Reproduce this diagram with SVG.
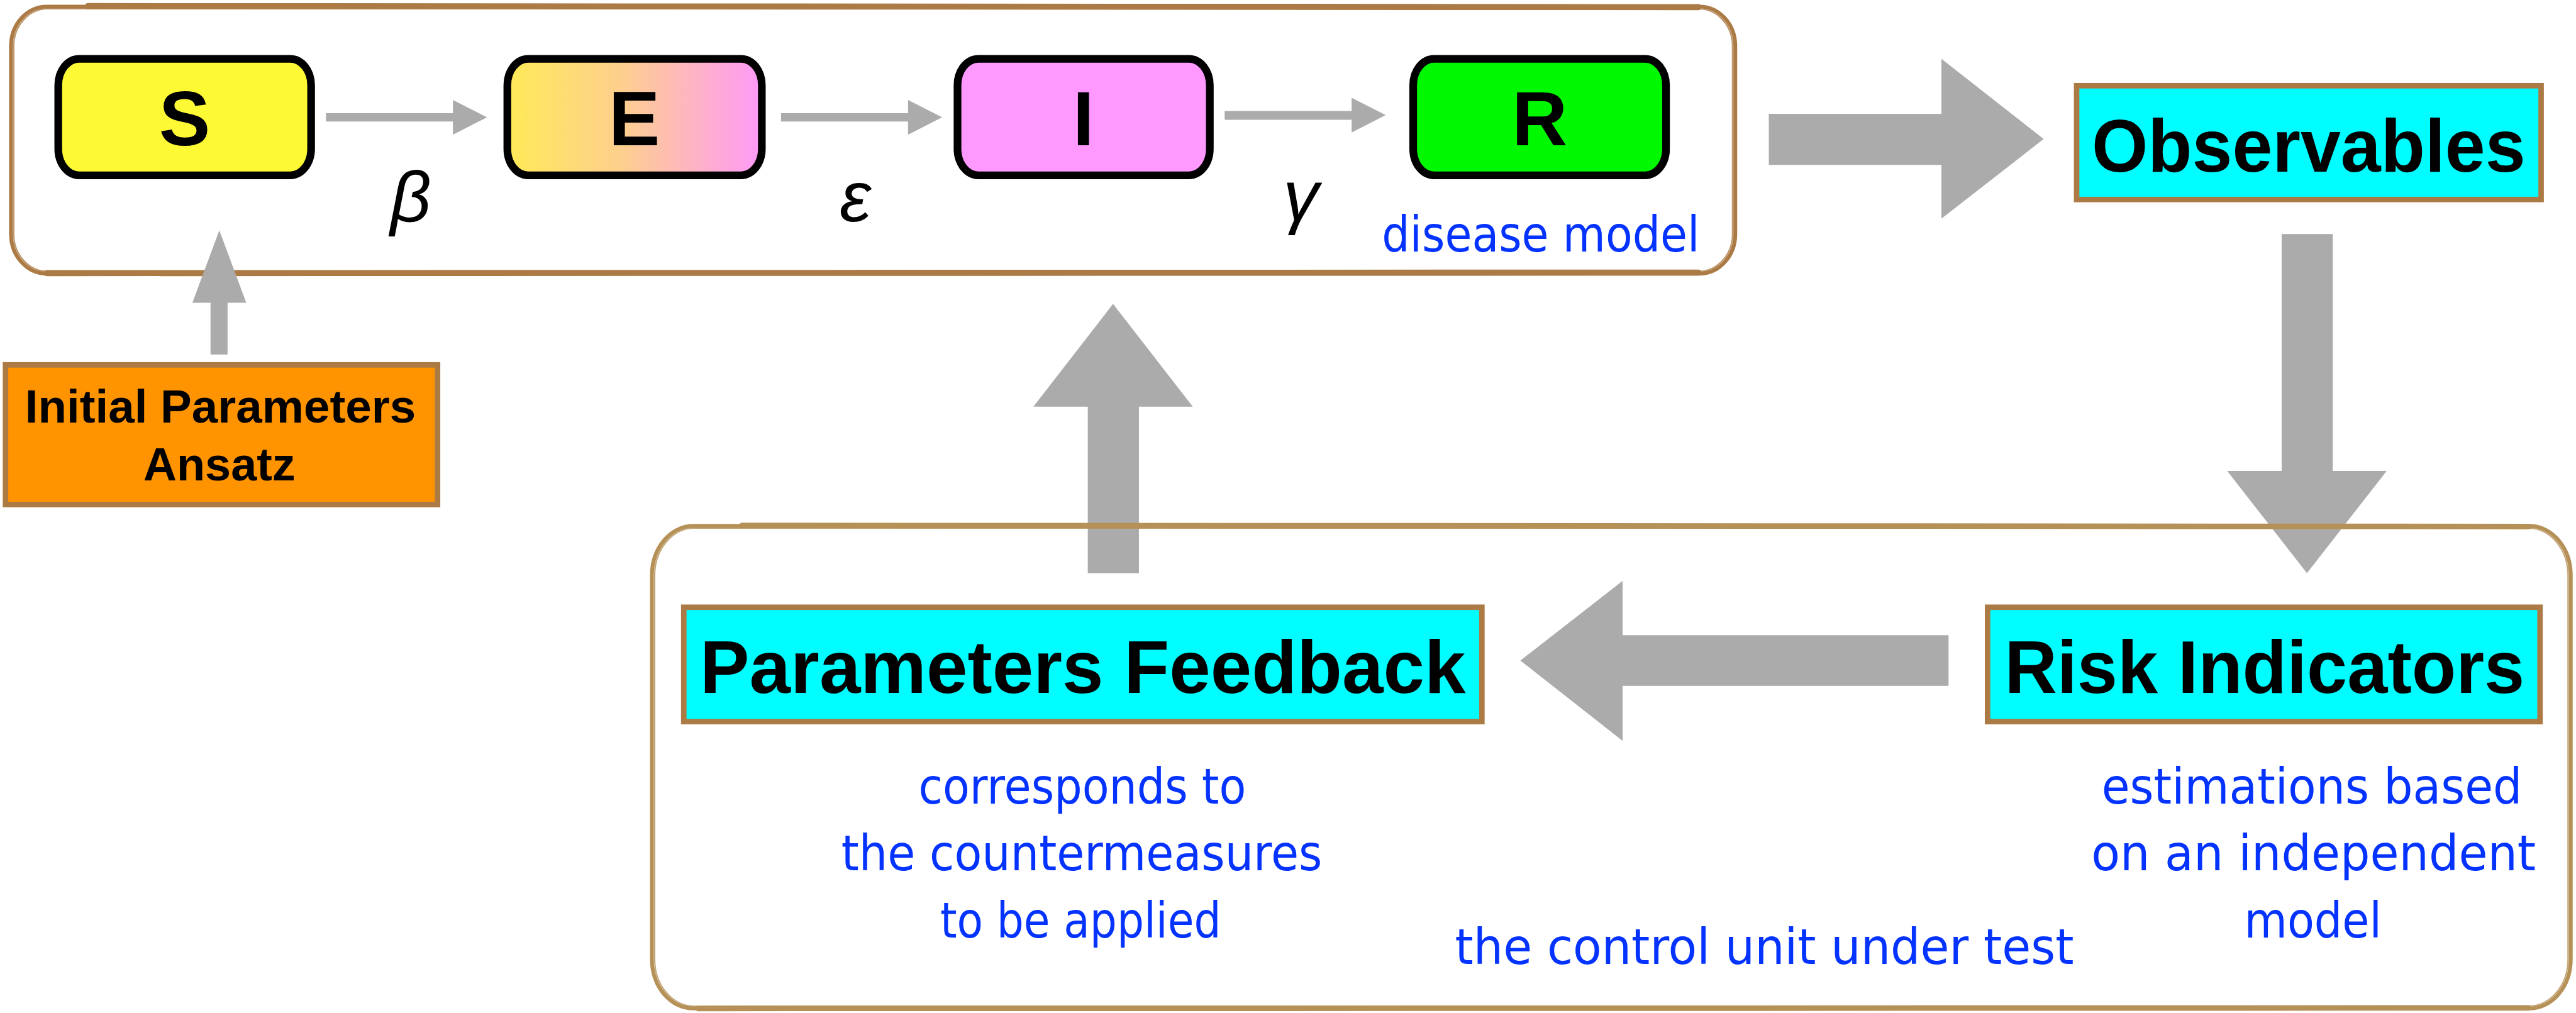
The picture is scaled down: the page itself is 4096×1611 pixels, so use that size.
<svg xmlns="http://www.w3.org/2000/svg" width="4096" height="1611" viewBox="0 0 4096 1611">
<defs>
<linearGradient id="gE" x1="0" y1="0" x2="1" y2="0">
<stop offset="0" stop-color="#FFEA57"/>
<stop offset="0.45" stop-color="#FDCF8E"/>
<stop offset="1" stop-color="#FF99F8"/>
</linearGradient>
<style>
.bg{fill:#ffffff}
.frameA{fill:none;stroke:#AC7B45;stroke-width:7}
.frameA2{fill:none;stroke:#AC7B45;stroke-width:2.5;opacity:0.8}
.frameB{fill:none;stroke:#B59157;stroke-width:7}
.frameB2{fill:none;stroke:#B59157;stroke-width:2.5;opacity:0.8}
.edge{fill:none;stroke:#AC7B45;stroke-width:11;stroke-linecap:round}
.edgeB{fill:none;stroke:#B59157;stroke-width:10;stroke-linecap:round}
.seir{stroke:#000000;stroke-width:14}
.letter{font-family:"Liberation Sans",Arial,sans-serif;font-weight:bold;font-size:140px;fill:#000000;text-anchor:middle}
.greek{font-family:"Liberation Sans",Arial,sans-serif;font-style:italic;font-size:130px;fill:#000000;text-anchor:middle}
.label{stroke:#AC7B45;stroke-width:10}
.title{font-family:"Liberation Sans",Arial,sans-serif;font-weight:bold;font-size:136px;fill:#000000;text-anchor:middle}
.small{font-family:"Liberation Sans",Arial,sans-serif;font-weight:bold;font-size:85px;fill:#000000;text-anchor:middle}
.note{font-family:"Liberation Sans Narrow","DejaVu Sans","Liberation Sans",sans-serif;font-size:90px;fill:#0433FF;text-anchor:middle}
.arrow{fill:#ABABAB}
</style>
</defs>
<rect x="0" y="0" width="4096" height="1611" fill="#ffffff"/>
<g transform="scale(0.874)">

<g id="disease-model-frame">
<rect class="bg" x="20" y="12" width="3137" height="486" rx="65" ry="72"/>
<rect class="frameA" x="20" y="12" width="3137" height="486" rx="65" ry="72"/>
<rect class="frameA2" x="25" y="16" width="3127" height="478" rx="62" ry="68"/>
<line class="edge" x1="160" y1="11" x2="3090" y2="13"/>
<line class="edge" x1="85" y1="497" x2="3090" y2="496"/>
<text class="note" x="2803" y="458" textLength="578" lengthAdjust="spacingAndGlyphs">disease model</text>
</g>

<g id="connectors">
<polygon class="arrow" points="593,206 824,206 824,182 886,213.5 824,245 824,221 593,221"/>
<polygon class="arrow" points="1421,206 1652,206 1652,182 1714,213.5 1652,245 1652,221 1421,221"/>
<polygon class="arrow" points="2228,202 2459,202 2459,178 2521,209.5 2459,241 2459,218 2228,218"/>
<polygon class="arrow" points="383,645 383,551 350,551 399,419 448,551 414,551 414,645"/>
<polygon class="arrow" points="3218,207 3532,207 3532,107 3718,253 3532,398 3532,300 3218,300"/>
<polygon class="arrow" points="4151,426 4244,426 4244,857 4342,857 4197,1043 4052,857 4151,857"/>
<polygon class="arrow" points="3545,1156 2952,1156 2952,1057 2766,1202 2952,1348 2952,1248 3545,1248"/>
<polygon class="arrow" points="1979,1043 1979,740 1880,740 2025,553 2170,740 2072,740 2072,1043"/>
</g>

<g id="control-unit-frame">
<rect class="frameB" x="1186" y="957" width="3491" height="878" rx="75" ry="90"/>
<rect class="frameB2" x="1191" y="961" width="3481" height="870" rx="72" ry="86"/>
<line class="edgeB" x1="1350" y1="956" x2="4600" y2="958"/>
<line class="edgeB" x1="1270" y1="1835" x2="4600" y2="1834"/>
<text class="note" x="3210" y="1754" textLength="1126" lengthAdjust="spacingAndGlyphs">the control unit under test</text>
</g>

<g id="node-S">
<rect class="seir" x="106" y="107" width="460" height="212" rx="38" ry="48" fill="#FDF935"/>
<text class="letter" x="336" y="264">S</text>
</g>
<g id="node-E">
<rect class="seir" x="923" y="107" width="463" height="212" rx="38" ry="48" fill="url(#gE)"/>
<text class="letter" x="1154" y="264">E</text>
</g>
<g id="node-I">
<rect class="seir" x="1742" y="107" width="459" height="212" rx="38" ry="48" fill="#FF99FF"/>
<text class="letter" x="1971" y="264">I</text>
</g>
<g id="node-R">
<rect class="seir" x="2571" y="107" width="460" height="212" rx="38" ry="48" fill="#00F900"/>
<text class="letter" x="2801" y="264">R</text>
</g>

<g id="rates">
<text class="greek" x="747" y="403">β</text>
<text class="greek" x="1556" y="403">ε</text>
<text class="greek" x="2367" y="400">γ</text>
</g>

<g id="node-initial">
<rect class="label" x="10" y="664" width="786" height="254" fill="#FF9300"/>
<text class="small" x="401" y="769" textLength="711" lengthAdjust="spacingAndGlyphs">Initial Parameters</text>
<text class="small" x="399" y="874" textLength="277" lengthAdjust="spacingAndGlyphs">Ansatz</text>
</g>

<g id="node-observables">
<rect class="label" x="3778" y="156" width="845" height="207" fill="#00FDFF"/>
<text class="title" x="4200" y="312" textLength="789" lengthAdjust="spacingAndGlyphs">Observables</text>
</g>

<g id="node-risk">
<rect class="label" x="3616" y="1105" width="1005" height="208" fill="#00FDFF"/>
<text class="title" x="4120" y="1261" textLength="946" lengthAdjust="spacingAndGlyphs">Risk Indicators</text>
<text class="note" x="4206" y="1462" textLength="765" lengthAdjust="spacingAndGlyphs">estimations based</text>
<text class="note" x="4209" y="1584" textLength="809" lengthAdjust="spacingAndGlyphs">on an independent</text>
<text class="note" x="4208" y="1706" textLength="250" lengthAdjust="spacingAndGlyphs">model</text>
</g>

<g id="node-feedback">
<rect class="label" x="1244" y="1105" width="1452" height="208" fill="#00FDFF"/>
<text class="title" x="1970" y="1261" textLength="1393" lengthAdjust="spacingAndGlyphs">Parameters Feedback</text>
<text class="note" x="1969" y="1462" textLength="596" lengthAdjust="spacingAndGlyphs">corresponds to</text>
<text class="note" x="1968" y="1584" textLength="875" lengthAdjust="spacingAndGlyphs">the countermeasures</text>
<text class="note" x="1966" y="1706" textLength="511" lengthAdjust="spacingAndGlyphs">to be applied</text>
</g>

</g>
</svg>
